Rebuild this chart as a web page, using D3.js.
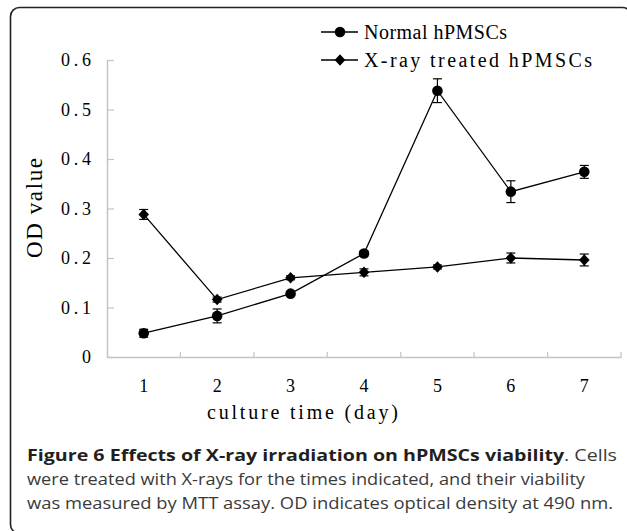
<!DOCTYPE html>
<html><head><meta charset="utf-8">
<script src="https://cdn.jsdelivr.net/npm/d3@7"></script>
<style>
html,body{margin:0;padding:0;background:#fff;}
svg{display:block;}
</style></head>
<body>
<script>
const days = [1, 2, 3, 4, 5, 6, 7];
const normalValues = [0.048, 0.083, 0.128, 0.209, 0.538, 0.334, 0.374];
const normalErrors = [0.008, 0.014, 0.004, 0.005, 0.024, 0.022, 0.013];
const xrayValues = [0.288, 0.116, 0.160, 0.171, 0.182, 0.200, 0.196];
const xrayErrors = [0.010, 0.005, 0.004, 0.007, 0.004, 0.010, 0.012];
const yTicks = [0, 0.1, 0.2, 0.3, 0.4, 0.5, 0.6];
const seriesNames = ["Normal hPMSCs", "X-ray treated hPMSCs"];
const xTitle = "culture time (day)";
const yTitle = "OD value";
const captionBold = "Figure 6 Effects of X-ray irradiation on hPMSCs viability";
const captionLines = [". Cells", "were treated with X-rays for the times indicated, and their viability", "was measured by MTT assay. OD indicates optical density at 490 nm."];

const W = 627, H = 531;
const svg = d3.select("body").append("svg").attr("width", W).attr("height", H);
const serif = "'Liberation Serif', 'DejaVu Serif', serif";
const sans = "'Open Sans', 'Noto Sans', sans-serif";

// frame
svg.append("rect").attr("x", 10.5).attr("y", 7.5).attr("width", 621).attr("height", 526)
  .attr("rx", 9).attr("fill", "none").attr("stroke", "#222").attr("stroke-width", 1.6);

const x = d3.scaleBand().domain(days).range([107, 621]).padding(0);
const y = d3.scaleLinear().domain([0, 0.6]).range([357, 60]);
const cx = d => x(d) + x.bandwidth() / 2;

// y axis
const yAxis = svg.append("g").attr("transform", "translate(107,0)")
  .call(d3.axisLeft(y).tickValues(yTicks).tickSizeInner(-7).tickSizeOuter(0).tickPadding(16)
    .tickFormat(d => d === 0 ? "0" : d.toFixed(1)));
yAxis.select(".domain").attr("stroke", "#c4c4c4").attr("stroke-width", 1.5);
yAxis.selectAll(".tick line").attr("stroke", "#c4c4c4").attr("stroke-width", 1.2);
yAxis.selectAll(".tick text").attr("font-family", serif).attr("font-size", 18).attr("fill", "#000")
  .each(function(d) { if (d !== 0) d3.select(this).attr("textLength", 30).attr("lengthAdjust", "spacing"); });

// x axis
const xAxis = svg.append("g").attr("transform", "translate(0,357)")
  .call(d3.axisBottom(x).tickSize(0).tickPadding(22));
xAxis.select(".domain").attr("stroke", "#c4c4c4").attr("stroke-width", 1.5);
xAxis.selectAll(".tick text").attr("font-family", serif).attr("font-size", 18).attr("fill", "#000");
const bounds = days.map(d => x(d)).concat([x.range()[1]]);
xAxis.selectAll(".btick").data(bounds.slice(1)).enter().append("line")
  .attr("x1", d => d).attr("x2", d => d).attr("y1", 0).attr("y2", -5)
  .attr("stroke", "#c4c4c4").attr("stroke-width", 1.2);

// titles
svg.append("text").attr("x", 207).attr("y", 419)
  .attr("font-family", serif).attr("font-size", 20).attr("fill", "#000")
  .attr("textLength", 191).attr("lengthAdjust", "spacing").text(xTitle);
svg.append("text").attr("transform", "translate(42,258) rotate(-90)")
  .attr("font-family", serif).attr("font-size", 23).attr("fill", "#000")
  .attr("textLength", 100).attr("lengthAdjust", "spacing").text(yTitle);

const line = d3.line().x((d, i) => cx(days[i])).y(d => y(d));
const diamond = d3.symbol().type(d3.symbolDiamond2).size(72);

function drawSeries(vals, errs, shape) {
  const g = svg.append("g");
  g.append("path").datum(vals).attr("d", line).attr("fill", "none").attr("stroke", "#000").attr("stroke-width", 1.3);
  const eb = g.selectAll(".eb").data(vals).enter().append("g");
  eb.append("line").attr("x1", (d, i) => cx(days[i])).attr("x2", (d, i) => cx(days[i]))
    .attr("y1", (d, i) => y(d - errs[i])).attr("y2", (d, i) => y(d + errs[i])).attr("stroke", "#000").attr("stroke-width", 1.2);
  [-1, 1].forEach(s => {
    eb.append("line").attr("x1", (d, i) => cx(days[i]) - 4.5).attr("x2", (d, i) => cx(days[i]) + 4.5)
      .attr("y1", (d, i) => y(d + s * errs[i])).attr("y2", (d, i) => y(d + s * errs[i])).attr("stroke", "#000").attr("stroke-width", 1.2);
  });
  if (shape === "circle") {
    g.selectAll(".m").data(vals).enter().append("circle")
      .attr("cx", (d, i) => cx(days[i])).attr("cy", d => y(d)).attr("r", 5.3).attr("fill", "#000");
  } else {
    g.selectAll(".m").data(vals).enter().append("path")
      .attr("transform", (d, i) => `translate(${cx(days[i])},${y(d)}) scale(1,1.08)`).attr("d", diamond).attr("fill", "#000");
  }
}
drawSeries(normalValues, normalErrors, "circle");
drawSeries(xrayValues, xrayErrors, "diamond");

// legend
const legY = [32, 60];
const legW = [143, 228];
seriesNames.forEach((name, i) => {
  const g = svg.append("g").attr("transform", `translate(0,${legY[i]})`);
  g.append("line").attr("x1", 321).attr("x2", 358).attr("y1", 0).attr("y2", 0).attr("stroke", "#000").attr("stroke-width", 1.3);
  if (i === 0) g.append("circle").attr("cx", 340).attr("cy", 0).attr("r", 5.3).attr("fill", "#000");
  else g.append("path").attr("transform", "translate(340,0) scale(1,1.08)").attr("d", diamond).attr("fill", "#000");
  g.append("text").attr("x", 364).attr("y", 0).attr("dy", "0.33em").attr("font-family", serif)
    .attr("font-size", 20).attr("fill", "#000").attr("textLength", legW[i]).attr("lengthAdjust", "spacing").text(name);
});

// caption
const capY = [461, 485, 509];
const capWidths = [590, 558, 586];
const t1 = svg.append("text").attr("x", 27).attr("y", capY[0]).attr("font-family", sans).attr("font-size", 16.5)
  .attr("textLength", capWidths[0]).attr("lengthAdjust", "spacingAndGlyphs");
t1.append("tspan").attr("font-weight", "bold").attr("fill", "#231f20").text(captionBold);
t1.append("tspan").attr("fill", "#3a3a3a").text(captionLines[0]);
[1, 2].forEach(k => {
  svg.append("text").attr("x", 27).attr("y", capY[k]).attr("font-family", sans).attr("font-size", 16.5)
    .attr("fill", "#3a3a3a").attr("textLength", capWidths[k]).attr("lengthAdjust", "spacingAndGlyphs")
    .text(captionLines[k]);
});
</script>
</body></html>
